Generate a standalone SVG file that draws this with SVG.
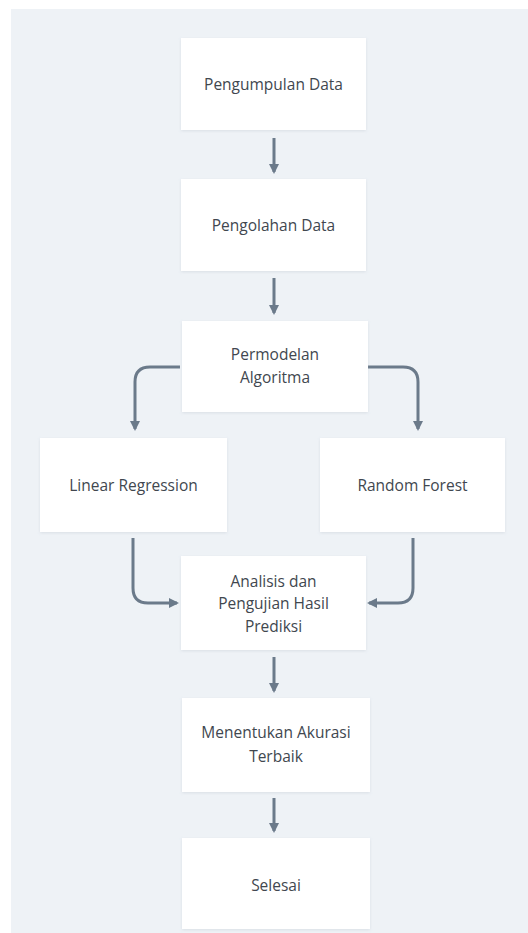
<svg xmlns="http://www.w3.org/2000/svg" width="528" height="933" viewBox="0 0 528 933">
<defs>
<marker id="ah" viewBox="0 0 10 10" refX="8" refY="5" markerWidth="10" markerHeight="10" markerUnits="userSpaceOnUse" orient="auto">
<path d="M0,0 L10,5 L0,10 z" fill="#6b7a8a"/>
</marker>
<filter id="sh" x="-10%" y="-10%" width="120%" height="130%">
<feDropShadow dx="0" dy="1" stdDeviation="1.5" flood-color="#9aa6b2" flood-opacity="0.25"/>
</filter>
</defs>
<style>
.box{fill:#ffffff;filter:url(#sh);}
.t{font-family:"Open Sans","Liberation Sans",sans-serif;font-size:15.5px;fill:#41474f;text-anchor:middle;}
.c{fill:none;stroke:#6b7a8a;stroke-width:3;marker-end:url(#ah);}
</style>
<rect x="0" y="0" width="528" height="933" fill="#ffffff"/>
<rect x="11" y="9" width="517" height="924" fill="#eef2f6"/>
<g id="connectors">
<path class="c" d="M274,138 V172"/>
<path class="c" d="M274,278 V313"/>
<path class="c" d="M180,367 H150 Q135,367 135,382 V429"/>
<path class="c" d="M368,367 H403 Q418,367 418,382 V429"/>
<path class="c" d="M133,538 V588 Q133,603 148,603 H177"/>
<path class="c" d="M413,538 V588 Q413,603 398,603 H369"/>
<path class="c" d="M274,657 V691"/>
<path class="c" d="M274,798 V831"/>
</g>
<g id="n1"><rect class="box" x="181" y="38" width="185" height="92"/><text class="t" x="273.5" y="90">Pengumpulan Data</text></g>
<g id="n2"><rect class="box" x="181" y="179" width="185" height="92"/><text class="t" x="273.5" y="231">Pengolahan Data</text></g>
<g id="n3"><rect class="box" x="182" y="321" width="186" height="91"/><text class="t" x="275" y="360">Permodelan</text><text class="t" x="275" y="383">Algoritma</text></g>
<g id="n4"><rect class="box" x="40" y="438" width="187" height="94"/><text class="t" x="133.5" y="491">Linear Regression</text></g>
<g id="n5"><rect class="box" x="320" y="438" width="185" height="94"/><text class="t" x="412.5" y="491">Random Forest</text></g>
<g id="n6"><rect class="box" x="181" y="556" width="185" height="94"/><text class="t" x="273.5" y="587">Analisis dan</text><text class="t" x="273.5" y="609">Pengujian Hasil</text><text class="t" x="273.5" y="632">Prediksi</text></g>
<g id="n7"><rect class="box" x="182" y="698" width="188" height="94"/><text class="t" x="276" y="738">Menentukan Akurasi</text><text class="t" x="276" y="762">Terbaik</text></g>
<g id="n8"><rect class="box" x="182" y="838" width="188" height="91"/><text class="t" x="276" y="891">Selesai</text></g>
</svg>
